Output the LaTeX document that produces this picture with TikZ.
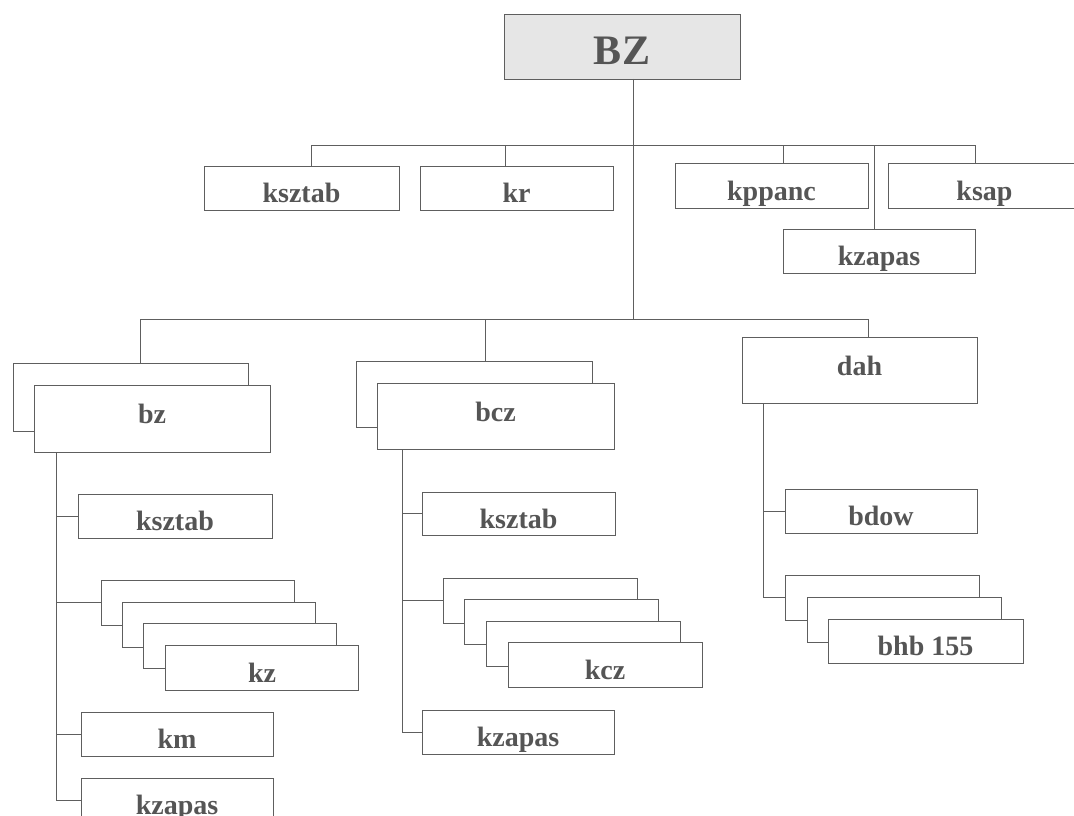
\documentclass[tikz,border=0pt]{standalone}
\usepackage{fontspec}
\setmainfont{Liberation Serif}
\definecolor{linegray}{HTML}{5E5E5E}
\definecolor{textgray}{HTML}{555555}
\definecolor{topfill}{HTML}{E6E6E6}
\tikzset{
  box/.style={draw=linegray, line width=0.9pt, fill=white, rectangle, inner sep=0pt, outer sep=0pt,
    text=textgray, font=\fontsize{28}{28}\selectfont\bfseries, text height=33pt, text depth=4pt},
  bigbox/.style={box, text height=20pt, text depth=10pt},
  conn/.style={draw=linegray, line width=0.9pt},
}
\begin{document}
\begin{tikzpicture}[x=1pt,y=-1pt]
\clip (0,0) rectangle (1074,816);
\fill[white] (0,0) rectangle (1074,816);
% root
\node[box, fill=topfill, minimum width=236pt, minimum height=65pt, font=\fontsize{42}{42}\selectfont\bfseries, text height=41pt, text depth=4pt] (BZ) at (622,46.5) {BZ};
% top row
\node[box, minimum width=195pt, minimum height=44pt] (ksztabT) at (301.5,188) {ksztab};
\node[box, minimum width=193pt, minimum height=44pt] (krT) at (516.5,188) {kr};
\node[box, minimum width=193pt, minimum height=45pt] (kppancT) at (771.5,185.5) {kppanc};
\node[box, minimum width=193pt, minimum height=45pt] (ksapT) at (984.5,185.5) {ksap};
\node[box, minimum width=192pt, minimum height=44pt] (kzapasT) at (879,251) {kzapas};
% connectors top
\coordinate (busL) at (311,145);
\coordinate (busR) at (975,145);
\coordinate (hub1) at (633,145);
\coordinate (hub2) at (633,319);
\draw[conn] ([xshift=11pt]BZ.south) -- (hub2);
\draw[conn] (busL) -- (busR);
\draw[conn] (busL) -- (busL |- ksztabT.north);
\draw[conn] (505,145) -- (505,166);
\draw[conn] (783,145) -- (783,163);
\draw[conn] (busR) -- (busR |- ksapT.north);
\draw[conn] (874,145) -- (874,229);
% second level
\coordinate (bus2L) at (140,319);
\coordinate (bus2R) at (868,319);
\draw[conn] (bus2L) -- (bus2R);
\node[bigbox, minimum width=235pt, minimum height=68pt] (bzB) at (130.5,397) {};
\node[bigbox, minimum width=236pt, minimum height=67pt] (bz) at (152,418.5) {bz};
\node[bigbox, minimum width=236pt, minimum height=66pt] (bczB) at (474,394) {};
\node[bigbox, minimum width=237pt, minimum height=66pt] (bcz) at (495.5,416) {bcz};
\node[bigbox, minimum width=235pt, minimum height=66pt] (dah) at (859.5,370) {dah};
\draw[conn] (bus2L) -- (bus2L |- bzB.north);
\draw[conn] (485,319) -- (485,361);
\draw[conn] (bus2R) -- (bus2R |- dah.north);
% left column
\node[box, minimum width=194pt, minimum height=44pt] (ksztabL) at (175,516) {ksztab};
\node[box, minimum width=193pt, minimum height=45pt] (kzA) at (197.5,602.5) {};
\node[box, minimum width=193pt, minimum height=45pt] (kzB) at (218.5,624.5) {};
\node[box, minimum width=193pt, minimum height=45pt] (kzC) at (240,645.5) {};
\node[box, minimum width=193pt, minimum height=45pt] (kz) at (262,667.5) {kz};
\node[box, minimum width=192pt, minimum height=44pt] (km) at (177,734) {km};
\node[box, minimum width=192pt, minimum height=44pt] (kzapasL) at (177,800) {kzapas};
\coordinate (colL) at (56,452);
\draw[conn] (colL) -- (56,800);
\draw[conn] (ksztabL.west) -- (ksztabL.west -| colL);
\draw[conn] (kzA.west) -- (kzA.west -| colL);
\draw[conn] (km.west) -- (km.west -| colL);
\draw[conn] (kzapasL.west) -- (kzapasL.west -| colL);
% middle column
\node[box, minimum width=193pt, minimum height=43pt] (ksztabM) at (518.5,513.5) {ksztab};
\node[box, minimum width=194pt, minimum height=45pt] (kczA) at (540,600.5) {};
\node[box, minimum width=194pt, minimum height=45pt] (kczB) at (561.5,621.5) {};
\node[box, minimum width=194pt, minimum height=45pt] (kczC) at (583,643.5) {};
\node[box, minimum width=194pt, minimum height=45pt] (kcz) at (605,665) {kcz};
\node[box, minimum width=192pt, minimum height=44pt] (kzapasM) at (518,732) {kzapas};
\coordinate (colM) at (402,449);
\draw[conn] (colM) -- (402,732);
\draw[conn] (ksztabM.west) -- (ksztabM.west -| colM);
\draw[conn] (kczA.west) -- (kczA.west -| colM);
\draw[conn] (kzapasM.west) -- (kzapasM.west -| colM);
% right column
\node[box, minimum width=192pt, minimum height=44pt] (bdow) at (881,511) {bdow};
\node[box, minimum width=194pt, minimum height=45pt] (bhbA) at (882,597.5) {};
\node[box, minimum width=194pt, minimum height=45pt] (bhbB) at (904,619.5) {};
\node[box, minimum width=195pt, minimum height=44pt] (bhb) at (925.5,641) {bhb 155};
\coordinate (colR) at (763,403);
\draw[conn] (colR) -- (763,597.5);
\draw[conn] (bdow.west) -- (bdow.west -| colR);
\draw[conn] (bhbA.west) -- (bhbA.west -| colR);
\end{tikzpicture}
\end{document}
